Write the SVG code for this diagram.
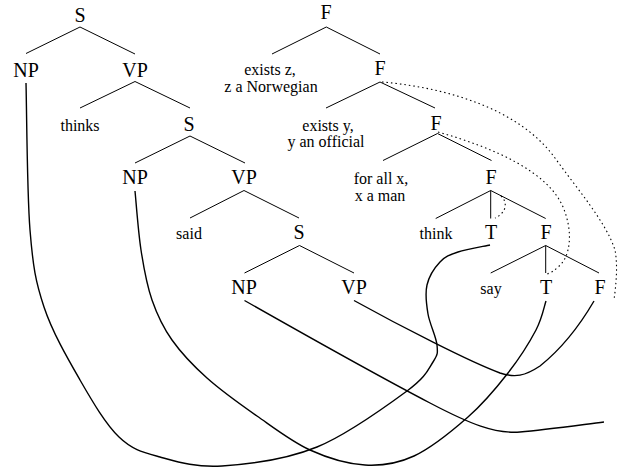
<svg xmlns="http://www.w3.org/2000/svg" width="621" height="470" viewBox="0 0 621 470">
<style>
.b{font-size:20px}
.s{font-size:16px}
.e{stroke:#000;stroke-width:1;fill:none}
.c{stroke:#000;stroke-width:1.4;fill:none}
.d{stroke:#000;stroke-width:1.1;fill:none;stroke-dasharray:1.5 3}
</style>
<rect width="621" height="470" fill="#fff"/>
<g id="nodes" style="font-family:'Liberation Serif',serif" text-anchor="middle" fill="#000">
<g id="S1"><text class="b" x="80" y="22">S</text></g>
<g id="NP1"><text class="b" x="26" y="77">NP</text></g>
<g id="VP1"><text class="b" x="135" y="77">VP</text></g>
<g id="thinks"><text class="s" x="80" y="131">thinks</text></g>
<g id="S2"><text class="b" x="189" y="131">S</text></g>
<g id="NP2"><text class="b" x="135" y="184">NP</text></g>
<g id="VP2"><text class="b" x="244" y="184">VP</text></g>
<g id="said"><text class="s" x="189" y="239">said</text></g>
<g id="S3"><text class="b" x="299" y="239">S</text></g>
<g id="NP3"><text class="b" x="244" y="294">NP</text></g>
<g id="VP3"><text class="b" x="354" y="294">VP</text></g>
<g id="F1"><text class="b" x="326" y="19">F</text></g>
<g id="qz"><text class="s" x="270" y="75">exists z,</text><text class="s" x="271" y="92">z a Norwegian</text></g>
<g id="F2"><text class="b" x="380" y="75">F</text></g>
<g id="qy"><text class="s" x="328" y="131">exists y,</text><text class="s" x="326" y="147">y an official</text></g>
<g id="F3"><text class="b" x="436" y="130">F</text></g>
<g id="qx"><text class="s" x="381" y="184">for all x,</text><text class="s" x="380" y="201">x a man</text></g>
<g id="F4"><text class="b" x="491" y="184">F</text></g>
<g id="think"><text class="s" x="436" y="239">think</text></g>
<g id="T1"><text class="b" x="491" y="239">T</text></g>
<g id="F5"><text class="b" x="546" y="239">F</text></g>
<g id="say"><text class="s" x="491" y="294">say</text></g>
<g id="T2"><text class="b" x="546" y="294">T</text></g>
<g id="F6"><text class="b" x="600" y="294">F</text></g>
</g>
<g id="connectors">
<path class="e" d="M80,27L26,53.5M80,27L135,54"/>
<path class="e" d="M135,81.5L80,108M135,81.5L190,108"/>
<path class="e" d="M190,136L135,163M190,136L245,163"/>
<path class="e" d="M244,190.5L190,218M244,190.5L299,218"/>
<path class="e" d="M299.5,245.5L244.5,273M299.5,245.5L354,273"/>
<path class="e" d="M326.3,27L272,54M326.3,27L380,54"/>
<path class="e" d="M380,82L326,108M380,82L435,108"/>
<path class="e" d="M437.5,133.5L383,160.5M437.5,133.5L491.5,160.5"/>
<path class="e" d="M490.7,190.5L435.7,218.5M490.7,190.5L490.7,218.5M490.7,190.5L545.7,218.5"/>
<path class="e" d="M545.7,245.5L490.7,273M545.7,245.5L545.7,273M545.7,245.5L599,273"/>
<path class="c" d="M26,83C26.7,107.5 27,192.7 30,230C33,267.3 35.7,282 44,307C52.3,332 67.5,358.3 80,380C92.5,401.7 105.7,424.2 119,437C132.3,449.8 142.8,452.2 160,457C177.2,461.8 195.8,467.7 222,466C248.2,464.3 286.2,459.5 317,447C347.8,434.5 387.7,405.2 407,391C426.3,376.8 428,369.7 433,362C438,354.3 437.8,353 437,345C436.2,337 429.7,324 428,314C426.3,304 425,293.7 427,285C429,276.3 434.8,267.5 440,262C445.2,256.5 449.7,254.8 458,252C466.3,249.2 484.7,246.2 490,245"/>
<path class="c" d="M135,191C136,200.8 138.2,231.8 141,250C143.8,268.2 146.8,285 152,300C157.2,315 162.8,327 172,340C181.2,353 192.8,365.3 207,378C221.2,390.7 239.8,404 257,416C274.2,428 292,441.8 310,450C328,458.2 347.7,464 365,465C382.3,466 396.8,464 414,456C431.2,448 452.3,430.8 468,417C483.7,403.2 496.7,387.5 508,373C519.3,358.5 529.7,342 536,330C542.3,318 544.3,305.8 546,301"/>
<path class="c" d="M244.5,300.5C300,332 380,377 430,403C470,424 495,434 520,432C545,430 580,425 604,422"/>
<path class="c" d="M354,300.5C400,326 470,362 500,373C515,378 525,376 540,366C560,350 580,325 594,301"/>
<path class="d" d="M382,82C450,88 520,110 555,158C578,190 606,222 615,250C618,266 616,285 614,300"/>
<path class="d" d="M438,132C495,148 548,172 563,207C574,233 570,258 558,267C554,271 550,273 547,274"/>
<path class="d" d="M501,196C507,201 508,212 495,218"/>
</g>
</svg>
